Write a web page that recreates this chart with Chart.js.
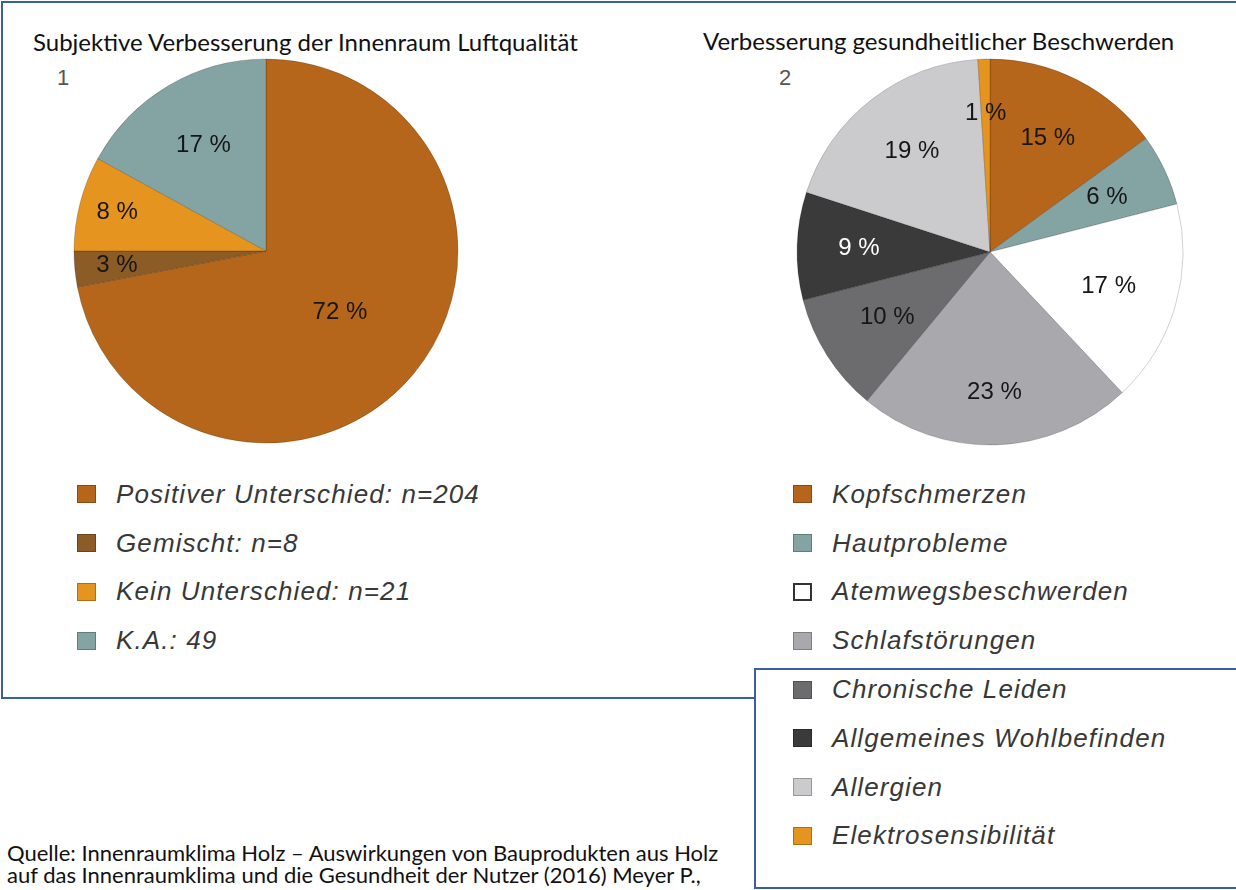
<!DOCTYPE html>
<html lang="de">
<head>
<meta charset="utf-8">
<title>Innenraumklima Holz</title>
<script src="https://cdn.jsdelivr.net/npm/chart.js@4.4.1/dist/chart.umd.min.js"></script>
<style>
  html, body { margin: 0; padding: 0; background: #fff; }
  body { width: 1236px; height: 890px; position: relative; overflow: hidden; font-family: "Liberation Sans", Arial, sans-serif; }
  .frame { position: absolute; left: 1px; top: 1px; width: 1260px; height: 694px; border: 2px solid #3b5ca6; }
  .frame2 { position: absolute; left: 754px; top: 668px; width: 500px; height: 217px; border: 2px solid #3b5ca6; background: #fff; }
  .title { position: absolute; font-family: Lato, sans-serif; font-size: 24px; line-height: 1; color: #111; white-space: nowrap; }
  .num { position: absolute; font-size: 22px; line-height: 1; color: #555; }
  .pie { position: absolute; width: 400px; height: 400px; }
  .legend { position: absolute; margin: 0; padding: 0; list-style: none; }
  .legend li { height: 48.8px; display: flex; align-items: center; font-style: italic; font-size: 26px; letter-spacing: 1.1px; color: #383838; white-space: nowrap; }
  .legend .box { width: 17px; height: 16px; margin-right: 20px; border: 1px solid rgba(0, 0, 0, 0.25); flex: none; }
  .source { position: absolute; left: 7px; top: 842px; font-family: Lato, sans-serif; font-size: 22px; line-height: 22px; color: #111; white-space: nowrap; }
</style>
</head>
<body>
<div class="frame"></div>
<div class="frame2"></div>

<div class="title" style="left:33px; top:30px;">Subjektive Verbesserung der Innenraum Luftqualität</div>
<div class="title" style="left:703px; top:29px;">Verbesserung gesundheitlicher Beschwerden</div>
<div class="num" style="left:57px; top:67px;">1</div>
<div class="num" style="left:779px; top:67px;">2</div>

<div class="pie" style="left:66px; top:51px;"><canvas id="pie1" width="400" height="400"></canvas></div>
<div class="pie" style="left:790px; top:52px;"><canvas id="pie2" width="400" height="400"></canvas></div>

<ul class="legend" id="legend1" style="left:77px; top:470px;"></ul>
<ul class="legend" id="legend2" style="left:793px; top:470px;"></ul>

<div class="source">Quelle: Innenraumklima Holz – Auswirkungen von Bauprodukten aus Holz<br>auf das Innenraumklima und die Gesundheit der Nutzer (2016) Meyer P.,</div>

<script>
// Chart 1: Luftqualität
const labels1 = ['Positiver Unterschied: n=204', 'Gemischt: n=8', 'Kein Unterschied: n=21', 'K.A.: 49'];
const values1 = [72, 3, 8, 17];
const colors1 = ['#b5661a', '#8c5c27', '#e4941f', '#84a4a4'];

// Chart 2: gesundheitliche Beschwerden
const labels2 = ['Kopfschmerzen', 'Hautprobleme', 'Atemwegsbeschwerden', 'Schlafstörungen', 'Chronische Leiden', 'Allgemeines Wohlbefinden', 'Allergien', 'Elektrosensibilität'];
const values2 = [15, 6, 17, 23, 10, 9, 19, 1];
const colors2 = ['#b5661a', '#84a4a4', '#ffffff', '#a9a8ad', '#6c6c6e', '#3a3a3a', '#cbcbcd', '#e4941f'];

// where the % text sits, as a share of the radius
const labelPos1 = [0.5, 0.78, 0.8, 0.64];
const labelPos2 = [0.66, 0.67, 0.64, 0.73, 0.63, 0.68, 0.66, 0.72];
const labelColors1 = ['#161616', '#161616', '#161616', '#161616'];
const labelColors2 = ['#161616', '#161616', '#161616', '#161616', '#161616', '#fff', '#161616', '#161616'];

// draws "72 %" etc. inside the slices
const sliceLabels = {
  id: 'sliceLabels',
  afterDatasetsDraw(chart, args, opts) {
    const ctx = chart.ctx;
    const meta = chart.getDatasetMeta(0);
    const data = chart.data.datasets[0].data;
    ctx.save();
    ctx.font = '24px "Liberation Sans", Arial, sans-serif';
    ctx.textAlign = 'center';
    ctx.textBaseline = 'middle';
    meta.data.forEach((arc, i) => {
      const p = arc.getProps(['x', 'y', 'startAngle', 'endAngle', 'outerRadius']);
      const mid = (p.startAngle + p.endAngle) / 2;
      const r = p.outerRadius * opts.pos[i];
      ctx.fillStyle = opts.colors[i];
      ctx.fillText(data[i] + ' %', p.x + Math.cos(mid) * r, p.y + Math.sin(mid) * r);
    });
    ctx.restore();
  }
};

function makePie(id, labels, values, colors, radius, pos, textColors) {
  return new Chart(document.getElementById(id), {
    type: 'pie',
    data: {
      labels: labels,
      datasets: [{
        data: values,
        backgroundColor: colors,
        borderColor: 'rgba(0, 0, 0, 0.18)',
        borderWidth: 1
      }]
    },
    options: {
      responsive: false,
      animation: false,
      radius: radius,
      layout: { padding: 0 },
      plugins: {
        legend: { display: false },
        tooltip: { enabled: false },
        sliceLabels: { pos: pos, colors: textColors }
      }
    },
    plugins: [sliceLabels]
  });
}

function buildLegend(listId, labels, colors) {
  const list = document.getElementById(listId);
  list.innerHTML = labels.map((label, i) => {
    const border = colors[i] === '#ffffff' ? 'border:2px solid #333;width:15px;height:14px;' : '';
    return `<li><span class="box" style="background:${colors[i]};${border}"></span>${label}</li>`;
  }).join('');
}

makePie('pie1', labels1, values1, colors1, 192, labelPos1, labelColors1);
makePie('pie2', labels2, values2, colors2, 193, labelPos2, labelColors2);
buildLegend('legend1', labels1, colors1);
buildLegend('legend2', labels2, colors2);
</script>
</body>
</html>
